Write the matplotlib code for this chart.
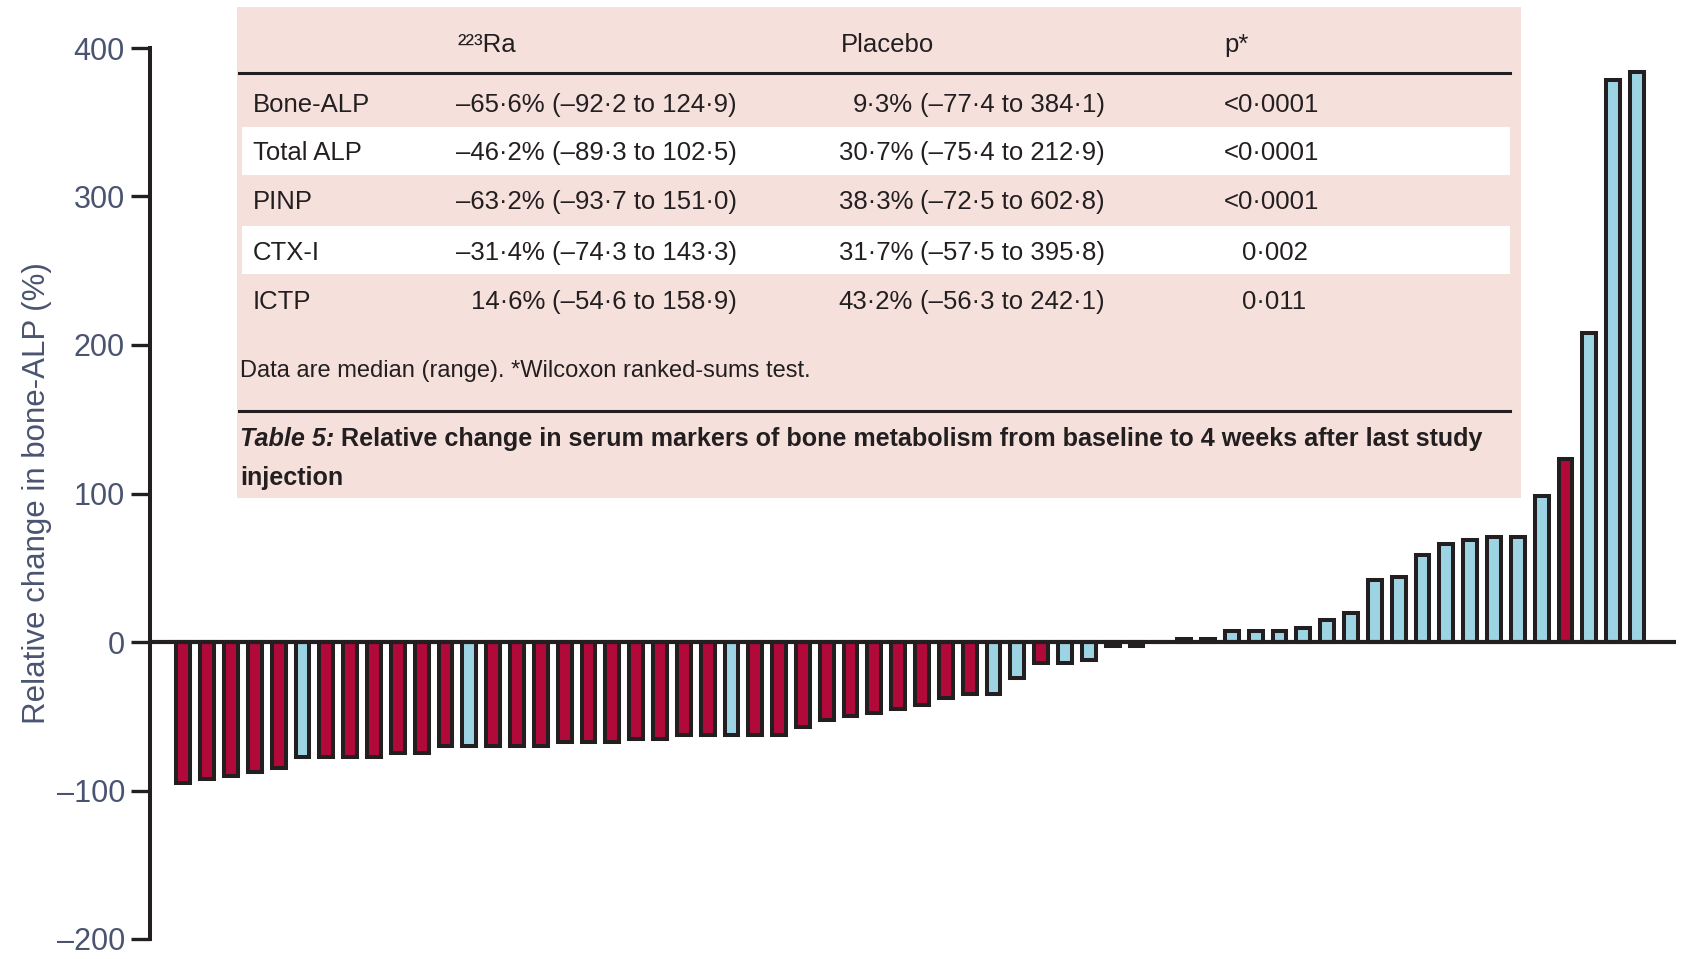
import numpy as np
import matplotlib.pyplot as plt
from matplotlib.patches import Rectangle
from matplotlib.text import Annotation

plt.rcParams['font.family'] = ['Liberation Sans', 'DejaVu Sans']

W, H = 1691, 959

# relative change in bone-ALP per patient, sorted (waterfall)
change = [-94.7, -92.0, -90.0, -87.3, -84.6, -77.2, -77.2, -77.2, -77.2, -74.5,
          -74.5, -69.8, -69.8, -69.8, -69.8, -69.8, -67.1, -67.1, -67.1, -65.1,
          -65.1, -62.4, -62.4, -62.4, -62.4, -62.4, -57.0, -52.3, -49.6, -47.6,
          -44.9, -42.2, -37.5, -34.8, -34.8, -24.5, -14.1, -14.1, -12.3, -2.5,
          -2.5, 0.0, 2.0, 2.0, 7.4, 7.4, 7.4, 9.2, 14.6, 19.3,
          41.9, 43.5, 58.6, 66.0, 68.5, 70.7, 70.7, 98.5, 122.9, 208.2,
          378.7, 384.1]
# R = radium-223, P = placebo
arm = ['R', 'R', 'R', 'R', 'R', 'P', 'R', 'R', 'R', 'R',
       'R', 'R', 'P', 'R', 'R', 'R', 'R', 'R', 'R', 'R',
       'R', 'R', 'R', 'P', 'R', 'R', 'R', 'R', 'R', 'R',
       'R', 'R', 'R', 'R', 'P', 'P', 'R', 'P', 'P', 'R',
       'R', 'P', 'P', 'P', 'P', 'P', 'P', 'P', 'P', 'P',
       'P', 'P', 'P', 'P', 'P', 'P', 'P', 'P', 'R', 'P',
       'P', 'P']

yticks = [-200, -100, 0, 100, 200, 300, 400]
ytick_labels = ['\u2013200', '\u2013100', '0', '100', '200', '300', '400']

# inset table
markers = ['Bone-ALP', 'Total ALP', 'PINP', 'CTX-I', 'ICTP']
ra_median = ['\u201365\u00b76%', '\u201346\u00b72%', '\u201363\u00b72%', '\u201331\u00b74%', '14\u00b76%']
ra_range = ['(\u201392\u00b72 to 124\u00b79)', '(\u201389\u00b73 to 102\u00b75)', '(\u201393\u00b77 to 151\u00b70)',
            '(\u201374\u00b73 to 143\u00b73)', '(\u201354\u00b76 to 158\u00b79)']
pl_median = ['9\u00b73%', '30\u00b77%', '38\u00b73%', '31\u00b77%', '43\u00b72%']
pl_range = ['(\u201377\u00b74 to 384\u00b71)', '(\u201375\u00b74 to 212\u00b79)', '(\u201372\u00b75 to 602\u00b78)',
            '(\u201357\u00b75 to 395\u00b78)', '(\u201356\u00b73 to 242\u00b71)']
p_vals = ['<0\u00b70001', '<0\u00b70001', '<0\u00b70001', '0\u00b7002', '0\u00b7011']

red = '#B0093A'
blue = '#9DD4E4'
ink = '#231F20'
axis_txt = '#4A5470'
pink = '#F5E0DC'


def fx(px):
    return px / W


def fy(py):
    return 1 - py / H


fig = plt.figure(figsize=(W / 100, H / 100), dpi=100)
ax = fig.add_axes([fx(150), fy(939), fx(1676) - fx(150), fy(48) - fy(939)])

x = np.arange(len(change))
colors = [red if a == 'R' else blue for a in arm]
ax.bar(x, change, width=0.58, color=colors, edgecolor=ink, linewidth=2.9, zorder=2)
ax.axhline(0, color=ink, lw=3, zorder=3)

ax.set_xlim(-1.4, 62.64)
ax.set_ylim(-200, 400)
ax.set_yticks(yticks)
ax.set_yticklabels(ytick_labels, fontsize=22, color=axis_txt)
ax.tick_params(axis='y', length=14, width=2.4, color=ink, pad=4)
ax.set_xticks([])
for s in ['top', 'right', 'bottom']:
    ax.spines[s].set_visible(False)
ax.spines['left'].set_linewidth(2.9)
ax.spines['left'].set_color(ink)
ax.set_ylabel('Relative change in bone-ALP (%)', fontsize=22.5, color=axis_txt, labelpad=3)

# table panel
fig.add_artist(Rectangle((fx(237), fy(498)), fx(1521) - fx(237), fy(7) - fy(498),
                         transform=fig.transFigure, facecolor=pink, edgecolor='none', zorder=5))
for top, bot in [(127, 175), (226, 274)]:
    fig.add_artist(Rectangle((fx(242), fy(bot)), fx(1510) - fx(242), fy(top) - fy(bot),
                             transform=fig.transFigure, facecolor='white', edgecolor='none', zorder=6))
for ly in [73, 411]:
    fig.add_artist(plt.Line2D([fx(239), fx(1510)], [fy(ly), fy(ly)], transform=fig.transFigure,
                              color=ink, lw=2.2, zorder=7))

fs = 18.5
kw = dict(fontsize=fs, color=ink, va='center', zorder=8)
fig.text(fx(458), fy(45), '\u00b2\u00b2\u00b3Ra', **kw)
fig.text(fx(841), fy(45), 'Placebo', **kw)
fig.text(fx(1224), fy(45), 'p*', **kw)

row_y = [105, 153, 202, 253, 302]
p_x = [1224, 1224, 1224, 1242, 1242]
for i, ry in enumerate(row_y):
    fig.text(fx(253), fy(ry), markers[i], **kw)
    fig.text(fx(545), fy(ry), ra_median[i], ha='right', **kw)
    fig.text(fx(552), fy(ry), ra_range[i], ha='left', **kw)
    fig.text(fx(913), fy(ry), pl_median[i], ha='right', **kw)
    fig.text(fx(920), fy(ry), pl_range[i], ha='left', **kw)
    fig.text(fx(p_x[i]), fy(ry), p_vals[i], **kw)

fig.text(fx(240), fy(371), 'Data are median (range). *Wilcoxon ranked-sums test.',
         fontsize=17, color=ink, va='center', zorder=8)

cfs = 18.1
t1 = fig.text(fx(240), fy(439), 'Table 5:', fontsize=cfs, color=ink, va='center',
              fontweight='bold', fontstyle='italic', zorder=8)
cap = Annotation(' Relative change in serum markers of bone metabolism from baseline to 4 weeks after last study',
                 xy=(1, 0.5), xycoords=t1, va='center', ha='left', fontsize=cfs, color=ink,
                 fontweight='bold', annotation_clip=False)
cap.set_zorder(8)
fig.add_artist(cap)
fig.text(fx(240), fy(478), 'injection', fontsize=cfs, color=ink, va='center',
         fontweight='bold', zorder=8)

fig.savefig('out.png', dpi=100)
